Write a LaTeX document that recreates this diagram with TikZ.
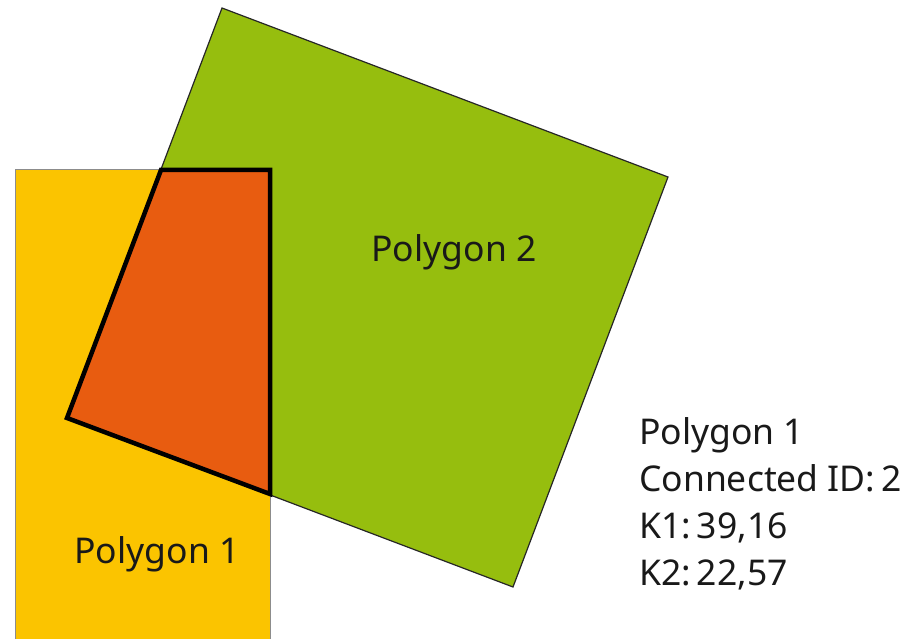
\documentclass[tikz,border=0pt]{standalone}
\usepackage{fontspec}
\setmainfont{Noto Sans}
\definecolor{polyyellow}{HTML}{FBC400}
\definecolor{polygreen}{HTML}{96BE0E}
\definecolor{polyorange}{HTML}{E85C10}
\tikzset{
  lbl/.style={font=\fontsize{35.5}{47}\selectfont, inner sep=0pt, text=black!90},
}
\begin{document}
\begin{tikzpicture}[x=1pt,y=-1pt]
\useasboundingbox (0,0) rectangle (911,639);
% Polygon 2 (green square)
\coordinate (g1) at (222,8);
\coordinate (g2) at (668,177);
\coordinate (g3) at (513,587);
\coordinate (g4) at (67,418);
\fill[polygreen, draw=black!85, line width=1.2pt] (g1) -- (g2) -- (g3) -- (g4) -- cycle;
% Polygon 1 (yellow rectangle)
\fill[polyyellow, draw=black!45, line width=1pt] (15,170) rectangle (270,660);
% Intersection
\filldraw[fill=polyorange, draw=black, line width=4.5pt, line join=miter]
  (161,170) -- (270,170) -- (270,494) -- (67,418) -- cycle;
% Labels
\node[lbl, anchor=base] (p2) at (454,262) {Polygon 2};
\node[lbl, anchor=base] (p1) at (157,563) {Polygon 1};
\node[lbl, anchor=base west, align=left] (info) at (639,585)
  {Polygon 1\\Connected ID:\,2\\K1:\,39,16\\K2:\,22,57};
\end{tikzpicture}
\end{document}
